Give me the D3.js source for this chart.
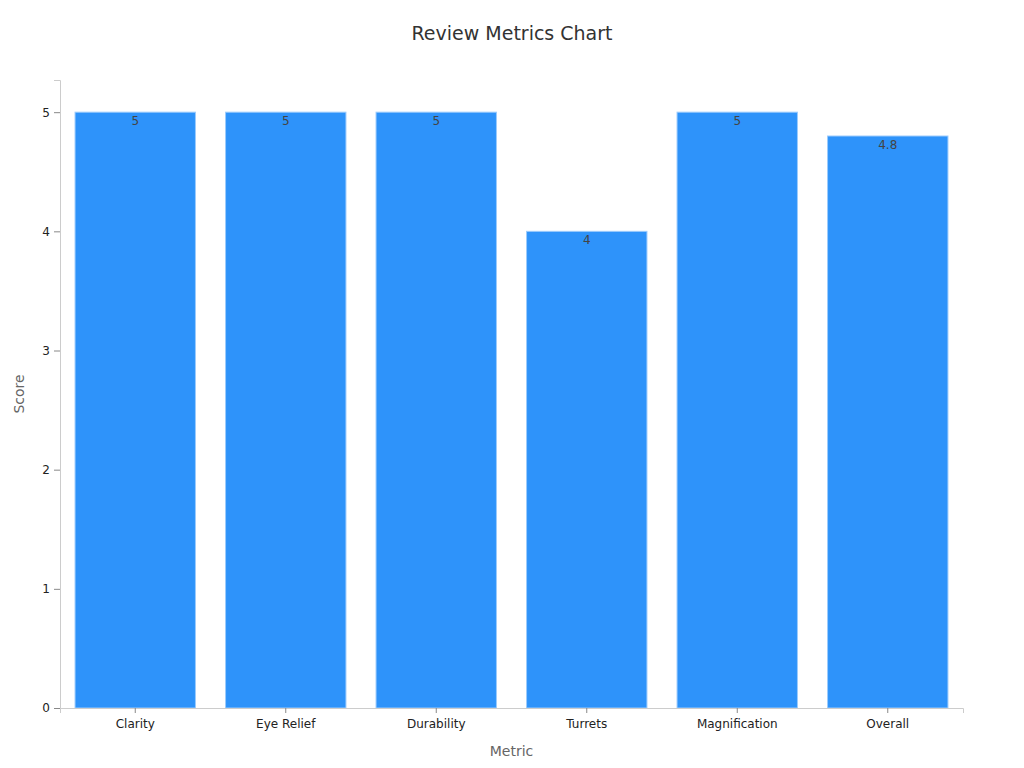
<!DOCTYPE html>
<html>
<head>
<meta charset="utf-8">
<script src="https://cdn.jsdelivr.net/npm/d3@7"></script>
<style>
  body { margin: 0; background: #fff; }
  text { font-family: "DejaVu Sans", sans-serif; }
</style>
</head>
<body>
<div id="chart"></div>
<script>
const WIDTH = 1024;
const HEIGHT = 768;
const MARGIN = {top: 80, right: 61, bottom: 60, left: 60};

const metrics = ['Clarity', 'Eye Relief', 'Durability', 'Turrets', 'Magnification', 'Overall'];
const scores = [5, 5, 5, 4, 5, 4.8];
const yTicks = [0, 1, 2, 3, 4, 5];
const yMax = 5.27;

let svg = d3.select('#chart').append('svg')
    .attr('width', WIDTH)
    .attr('height', HEIGHT);

let x = d3.scaleBand()
    .domain(metrics)
    .range([MARGIN.left, WIDTH - MARGIN.right])
    .paddingInner(0.2)
    .paddingOuter(0.1);

let y = d3.scaleLinear()
    .domain([0, yMax])
    .range([HEIGHT - MARGIN.bottom, MARGIN.top]);

// title
svg.append('text')
    .attr('x', WIDTH/2)
    .attr('y', 40)
    .attr('text-anchor', 'middle')
    .attr('font-size', 19)
    .attr('fill', '#333')
    .text('Review Metrics Chart');

// bars
svg.selectAll('rect.bar')
    .data(metrics)
    .enter().append('rect')
    .attr('class', 'bar')
    .attr('x', d => x(d))
    .attr('y', (d, i) => y(scores[i]))
    .attr('width', x.bandwidth())
    .attr('height', (d, i) => y(0) - y(scores[i]))
    .attr('fill', '#2e93fa')
    .attr('stroke', '#9ccbfc')
    .attr('stroke-width', 1);

// value labels
svg.selectAll('text.val')
    .data(metrics)
    .enter().append('text')
    .attr('class', 'val')
    .attr('x', d => x(d) + x.bandwidth()/2)
    .attr('y', (d, i) => y(scores[i]) + 13)
    .attr('text-anchor', 'middle')
    .attr('font-size', 12)
    .attr('fill', '#444')
    .text((d, i) => scores[i]);

// x axis
let xAxis = svg.append('g')
    .attr('transform', 'translate(0,' + (HEIGHT - MARGIN.bottom) + ')')
    .call(d3.axisBottom(x).tickSizeOuter(0).tickSize(5).tickPadding(6));
xAxis.select('.domain').attr('stroke', '#ccc');
xAxis.selectAll('.tick line').attr('stroke', '#888');
xAxis.selectAll('.tick text').attr('font-size', 12).attr('fill', '#222')
    .attr('font-family', '"DejaVu Sans", sans-serif');

// y axis
let yAxis = svg.append('g')
    .attr('transform', 'translate(' + MARGIN.left + ',0)')
    .call(d3.axisLeft(y).tickValues(yTicks).tickFormat(d3.format('d'))
        .tickSizeOuter(0).tickSize(6).tickPadding(4));
yAxis.select('.domain').attr('stroke', '#ccc');
yAxis.selectAll('.tick line').attr('stroke', '#888');
yAxis.selectAll('.tick text').attr('font-size', 12).attr('fill', '#222')
    .attr('font-family', '"DejaVu Sans", sans-serif');

// axis titles
svg.append('text')
    .attr('x', (MARGIN.left + WIDTH - MARGIN.right)/2)
    .attr('y', 756)
    .attr('text-anchor', 'middle')
    .attr('font-size', 14)
    .attr('fill', '#666')
    .text('Metric');

svg.append('text')
    .attr('transform', 'translate(24,' + ((MARGIN.top + HEIGHT - MARGIN.bottom)/2) + ') rotate(-90)')
    .attr('text-anchor', 'middle')
    .attr('font-size', 14)
    .attr('fill', '#666')
    .text('Score');
</script>
</body>
</html>
